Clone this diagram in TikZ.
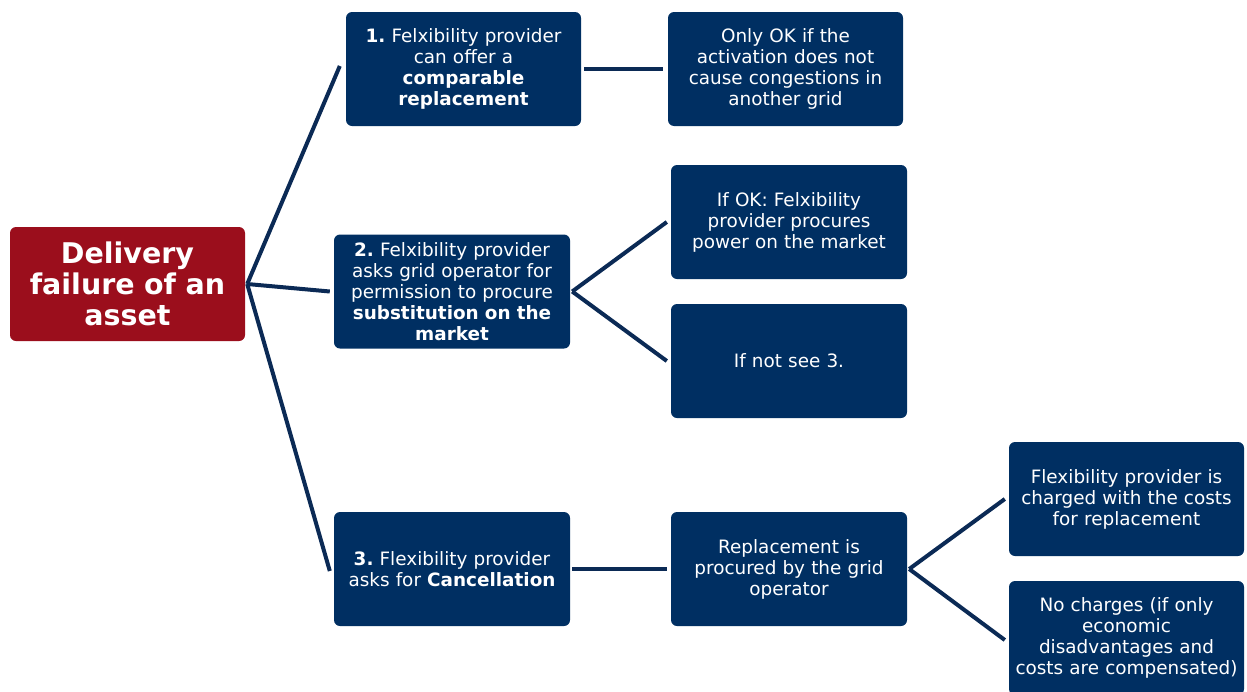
\documentclass[tikz,border=0pt]{standalone}
\usepackage{fontspec}
\setmainfont{DejaVu Sans}
\begin{document}
\definecolor{navybox}{HTML}{002F62}
\definecolor{navyline}{HTML}{0B2A55}
\definecolor{rootred}{HTML}{9B0E1C}
\begin{tikzpicture}[x=1pt,y=-1pt,
  box/.style={draw=none, fill=navybox, rounded corners=6pt, text=white,
    minimum width=235pt, minimum height=114pt, text width=230pt, align=center,
    inner sep=0pt, font=\fontsize{18.4}{21}\selectfont},
  rootbox/.style={box, fill=rootred, font=\bfseries\fontsize{28.5}{31}\selectfont},
  conn/.style={draw=navyline, line width=4pt}]
\useasboundingbox (0,0) rectangle (1247,691);
% root
\node[rootbox] (root) at (127.5,284) {Delivery\\failure of an\\asset};
% option 1
\node[box] (b1) at (463.5,69) {\textbf{1.}~Felxibility provider\\can offer a\\\textbf{comparable}\\\textbf{replacement}};
\node[box] (b1a) at (785.5,69) {Only OK if the\\activation does not\\cause congestions in\\another grid};
% option 2
\node[box, minimum width=236pt] (b2) at (452,291.5) {\textbf{2.}~Felxibility provider\\asks grid operator for\\permission to procure\\\textbf{substitution on the}\\\textbf{market}};
\node[box, minimum width=236pt] (b2a) at (789,222) {If OK: Felxibility\\provider procures\\power on the market};
\node[box, minimum width=236pt] (b2b) at (789,361) {If not see 3.};
% option 3
\node[box, minimum width=236pt] (b3) at (452,569) {\textbf{3.}~Flexibility provider\\asks for \textbf{Cancellation}};
\node[box, minimum width=236pt] (b3a) at (789,569) {Replacement is\\procured by the grid\\operator};
\node[box] (b3b) at (1126.5,499) {Flexibility provider is\\charged with the costs\\for replacement};
\node[box] (b3c) at (1126.5,638) {No charges (if only\\economic\\disadvantages and\\costs are compensated)};
% connectors
\coordinate (rootout) at ([xshift=2pt]root.east);
\draw[conn] (rootout) -- ([xshift=-6pt,yshift=3pt]b1.west);
\draw[conn] (rootout) -- ([xshift=-4pt]b2.west);
\draw[conn] (rootout) -- ([xshift=-4pt,yshift=-2pt]b3.west);
\draw[conn] ([xshift=3pt]b1.east) -- ([xshift=-5pt]b1a.west);
\coordinate (b2out) at ([xshift=2pt]b2.east);
\draw[conn] (b2out) -- ([xshift=-4pt]b2a.west);
\draw[conn] (b2out) -- ([xshift=-4pt]b2b.west);
\draw[conn] ([xshift=2pt]b3.east) -- ([xshift=-4pt]b3a.west);
\coordinate (b3out) at ([xshift=2pt]b3a.east);
\draw[conn] (b3out) -- ([xshift=-4pt]b3b.west);
\draw[conn] (b3out) -- ([xshift=-4pt,yshift=-2pt]b3c.west);
\end{tikzpicture}
\end{document}
